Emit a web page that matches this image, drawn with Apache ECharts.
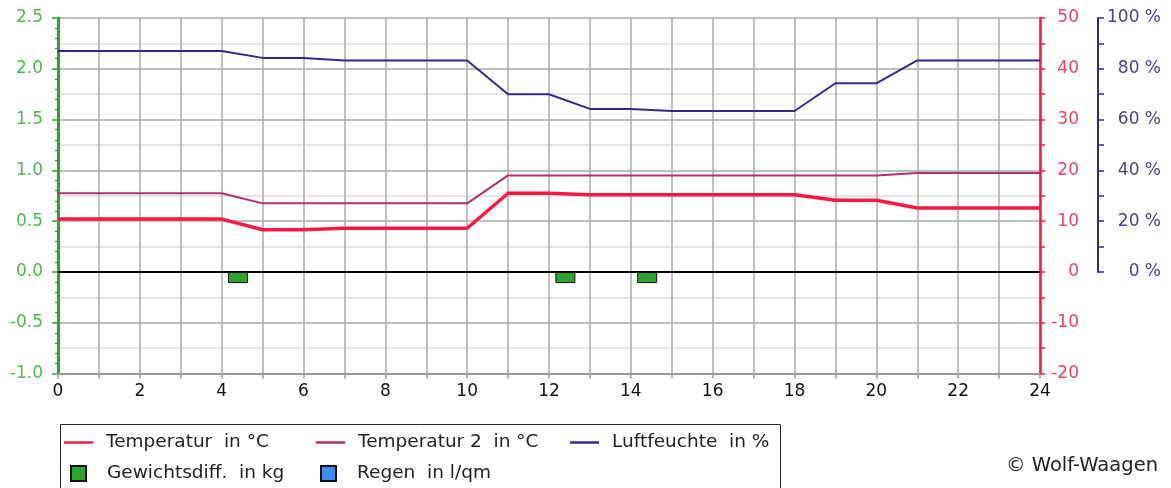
<!DOCTYPE html>
<html>
<head>
<meta charset="utf-8">
<script src="https://cdn.jsdelivr.net/npm/echarts@6/dist/echarts.min.js"></script>
<style>
html,body{margin:0;padding:0;background:#fff;}
#chart{width:1171px;height:488px;}
</style>
</head>
<body>
<div id="chart"></div>
<script>
// ---- data ----
const hours = [0,1,2,3,4,5,6,7,8,9,10,11,12,13,14,15,16,17,18,19,20,21,22,23,24];
const temperatur = [10.4,10.4,10.4,10.4,10.4,8.3,8.3,8.6,8.6,8.6,8.6,15.5,15.5,15.2,15.2,15.2,15.2,15.2,15.2,14.1,14.1,12.6,12.6,12.6,12.6];
const temperatur2 = [15.5,15.5,15.5,15.5,15.5,13.5,13.5,13.5,13.5,13.5,13.5,19.0,19.0,19.0,19.0,19.0,19.0,19.0,19.0,19.0,19.0,19.5,19.5,19.5,19.5];
const luftfeuchte = [87,87,87,87,87,84.3,84.3,83.3,83.3,83.3,83.3,70,70,64.2,64.2,63.4,63.4,63.4,63.4,74.3,74.3,83.3,83.3,83.3,83.3];
const gewichtsHours = [4.4, 12.4, 14.4];
const gewichtsdiff = [-0.11, -0.11, -0.11];
const regenHours = [];
const regen = [];
const names = ['Temperatur  in °C', 'Temperatur 2  in °C', 'Luftfeuchte  in %', 'Gewichtsdiff.  in kg', 'Regen  in l/qm'];

const FONT = '"DejaVu Sans", sans-serif';
const C_RED = '#ff1744';
const C_MAG = '#b3306c';
const C_BLUE = '#34298a';
const C_GREEN = '#2ea32e';
const C_RAIN = '#3d8ff5';

const pairs = (xs, ys) => xs.map((x, i) => [x, ys[i]]);

const chart = echarts.init(document.getElementById('chart'), null, {renderer: 'canvas'});

function legendItem(name, left, top, w, h, pad) {
  return {
    data: [name], left: left, top: top, padding: 0,
    icon: 'rect', itemWidth: w, itemHeight: h,
    selectedMode: false,
    textStyle: {fontFamily: FONT, fontSize: 18.5, color: '#222', padding: [0, 0, 0, pad]}
  };
}

const option = {
  animation: false,
  backgroundColor: '#fff',
  grid: [
    {left: 58, right: 131, top: 18, bottom: 114.5, containLabel: false},
    {left: 58, right: 131, top: 18, bottom: 216, containLabel: false}
  ],
  xAxis: [
    {
      type: 'value', gridIndex: 0, min: 0, max: 24, interval: 1,
      axisLine: {show: true, onZero: false, lineStyle: {color: '#999', width: 2}},
      axisTick: {show: true, length: 5, lineStyle: {color: '#999', width: 1.5}},
      axisLabel: {
        color: '#111', fontFamily: FONT, fontSize: 17, margin: 10,
        formatter: v => (v % 2 === 0 ? String(v) : '')
      },
      splitLine: {show: true, lineStyle: {color: '#aaaaaa', width: 1.5}}
    },
    {
      type: 'value', gridIndex: 1, min: 0, max: 24, show: false
    }
  ],
  yAxis: [
    {
      type: 'value', gridIndex: 0, position: 'left', min: -1, max: 2.5, interval: 0.5,
      axisLine: {show: true, onZero: false, lineStyle: {color: C_GREEN, width: 3}},
      axisTick: {show: true, length: 6, lineStyle: {color: C_GREEN, width: 1.5}},
      minorTick: {show: true, splitNumber: 5, length: 3, lineStyle: {color: C_GREEN, width: 1.2}},
      axisLabel: {color: '#55b455', fontFamily: FONT, fontSize: 17, margin: 15,
        formatter: v => v.toFixed(1)},
      splitLine: {show: false}
    },
    {
      type: 'value', gridIndex: 0, position: 'right', min: -20, max: 50, interval: 5,
      axisLine: {show: true, onZero: false, lineStyle: {color: C_RED, width: 2.5}},
      axisTick: {show: true, length: 5, lineStyle: {color: C_RED, width: 1.5}},
      axisLabel: {color: '#f0435f', fontFamily: FONT, fontSize: 17, margin: 39, align: 'right',
        formatter: v => (v % 10 === 0 ? String(v) : '')},
      splitLine: {show: true, lineStyle: {color: ['#aaaaaa', '#dddddd'], width: 1.5}}
    },
    {
      type: 'value', gridIndex: 1, position: 'right', offset: 58, min: 0, max: 100, interval: 10,
      axisLine: {show: true, onZero: false, lineStyle: {color: C_BLUE, width: 2}},
      axisTick: {show: true, length: 6, lineStyle: {color: C_BLUE, width: 1.5}},
      axisLabel: {color: '#4a4190', fontFamily: FONT, fontSize: 17, margin: 63, align: 'right',
        formatter: v => (v % 20 === 0 ? v + ' %' : '')},
      splitLine: {show: false}
    }
  ],
  legend: [
    legendItem(names[0], 64, 433, 29, 2.5, 8),
    legendItem(names[1], 316, 433, 29, 2.5, 8),
    legendItem(names[2], 570, 433, 29, 2.5, 8),
    legendItem(names[3], 70, 464, 15, 15, 16),
    legendItem(names[4], 320, 464, 15, 15, 16)
  ],
  graphic: [
    {type: 'rect', left: 58, top: 422, shape: {width: 720, height: 90},
     style: {fill: 'none', stroke: '#222', lineWidth: 1}, silent: true, z: 0},
    {type: 'text', right: 13, top: 456,
     style: {text: '© Wolf-Waagen', fontFamily: FONT, fontSize: 19.5, fill: '#222'}, silent: true}
  ],
  series: [
    {
      name: names[3], type: 'bar', xAxisIndex: 0, yAxisIndex: 0,
      data: pairs(gewichtsHours, gewichtsdiff), barWidth: 20, barGap: '-100%',
      itemStyle: {color: C_GREEN, borderColor: '#111', borderWidth: 1},
      z: 3,
      markLine: {
        silent: true, symbol: 'none', label: {show: false},
        lineStyle: {color: '#000', width: 2, type: 'solid'},
        data: [{yAxis: 0}]
      }
    },
    {
      name: names[4], type: 'bar', xAxisIndex: 0, yAxisIndex: 0,
      data: pairs(regenHours, regen), barWidth: 20, barGap: '-100%',
      itemStyle: {color: C_RAIN, borderColor: '#111', borderWidth: 1}
    },
    {
      name: names[1], type: 'line', xAxisIndex: 0, yAxisIndex: 1,
      data: pairs(hours, temperatur2), showSymbol: false, symbol: 'none',
      lineStyle: {color: C_MAG, width: 2}, itemStyle: {color: C_MAG}, z: 4
    },
    {
      name: names[0], type: 'line', xAxisIndex: 0, yAxisIndex: 1,
      data: pairs(hours, temperatur), showSymbol: false, symbol: 'none',
      lineStyle: {color: C_RED, width: 3.5}, itemStyle: {color: C_RED}, z: 5
    },
    {
      name: names[2], type: 'line', xAxisIndex: 1, yAxisIndex: 2,
      data: pairs(hours, luftfeuchte), showSymbol: false, symbol: 'none',
      lineStyle: {color: C_BLUE, width: 2}, itemStyle: {color: C_BLUE}, z: 5
    }
  ]
};
chart.setOption(option);
</script>
</body>
</html>
